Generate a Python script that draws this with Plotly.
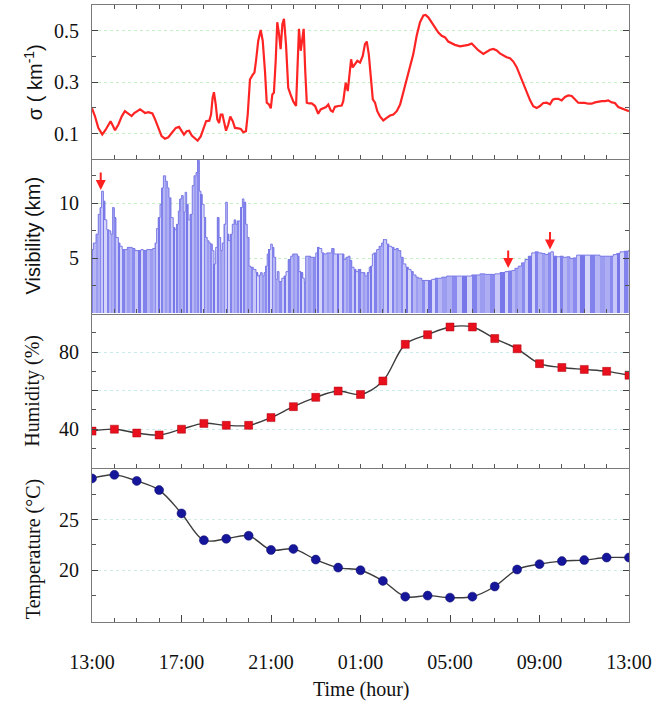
import plotly.graph_objects as go

# ---------------- data ----------------
hour_ticks = [0, 4, 8, 12, 16, 20, 24]
hour_labels = ["13:00", "17:00", "21:00", "01:00", "05:00", "09:00", "13:00"]

# extinction coefficient sigma (km^-1), time in hours after 13:00
sigma_t = [0.0, 0.13, 0.28, 0.46, 0.61, 0.73, 0.83, 0.92, 1.03, 1.18, 1.33, 1.47, 1.62, 1.77, 1.89,
           2.0, 2.15, 2.26, 2.37, 2.52, 2.7, 2.82, 2.96, 3.11, 3.26, 3.41, 3.56, 3.75, 3.89, 4.01,
           4.11, 4.23, 4.34, 4.46, 4.6, 4.72, 4.86, 4.98, 5.1, 5.24, 5.32, 5.39, 5.45, 5.53, 5.6,
           5.68, 5.75, 5.83, 5.91, 5.99, 6.09, 6.18, 6.29, 6.39, 6.54, 6.65, 6.76, 6.88, 6.96, 7.06,
           7.18, 7.26, 7.33, 7.43, 7.54, 7.63, 7.73, 7.81, 7.91, 7.99, 8.06, 8.13, 8.21, 8.28, 8.36,
           8.43, 8.51, 8.58, 8.67, 8.77, 8.88, 9.0, 9.12, 9.19, 9.25, 9.33, 9.4, 9.46, 9.53, 9.6,
           9.7, 9.82, 9.97, 10.11, 10.22, 10.34, 10.46, 10.56, 10.67, 10.76, 10.86, 11.01, 11.16,
           11.23, 11.34, 11.43, 11.5, 11.58, 11.65, 11.75, 11.86, 11.98, 12.1, 12.2, 12.28, 12.37,
           12.46, 12.55, 12.65, 12.75, 12.87, 13.02, 13.17, 13.32, 13.47, 13.62, 13.77, 13.91,
           14.07, 14.21, 14.36, 14.51, 14.66, 14.81, 14.91, 15.03, 15.18, 15.33, 15.48, 15.63,
           15.78, 15.92, 16.08, 16.22, 16.45, 16.67, 16.82, 16.97, 17.12, 17.26, 17.49, 17.64,
           17.79, 17.94, 18.09, 18.23, 18.38, 18.53, 18.68, 18.83, 18.98, 19.13, 19.28, 19.43,
           19.58, 19.72, 19.87, 20.02, 20.17, 20.32, 20.47, 20.59, 20.69, 20.84, 20.99, 21.14,
           21.29, 21.44, 21.59, 21.73, 21.89, 22.03, 22.18, 22.33, 22.48, 22.63, 22.78, 22.93,
           23.07, 23.23, 23.37, 23.52, 23.67, 23.82, 23.97, 24.0]
sigma_v = [0.198, 0.168, 0.122, 0.096, 0.115, 0.135, 0.148, 0.132, 0.113, 0.135, 0.167, 0.187, 0.178,
           0.168, 0.18, 0.185, 0.194, 0.187, 0.18, 0.183, 0.178, 0.155, 0.12, 0.09, 0.08, 0.085, 0.102,
           0.122, 0.126, 0.111, 0.096, 0.109, 0.111, 0.092, 0.079, 0.072, 0.089, 0.115, 0.148, 0.15,
           0.174, 0.239, 0.261, 0.213, 0.155, 0.141, 0.174, 0.174, 0.135, 0.111, 0.135, 0.166, 0.148,
           0.122, 0.12, 0.118, 0.105, 0.109, 0.174, 0.31, 0.328, 0.337, 0.383, 0.461, 0.503, 0.461,
           0.344, 0.22, 0.213, 0.198, 0.252, 0.259, 0.383, 0.533, 0.487, 0.428, 0.526, 0.546, 0.448,
           0.278, 0.25, 0.224, 0.207, 0.344, 0.507, 0.422, 0.467, 0.507, 0.344, 0.22, 0.217, 0.217,
           0.207, 0.177, 0.194, 0.2, 0.203, 0.213, 0.19, 0.185, 0.204, 0.207, 0.209, 0.226, 0.298,
           0.265, 0.33, 0.389, 0.357, 0.37, 0.383, 0.376, 0.402, 0.448, 0.458, 0.409, 0.311, 0.233,
           0.22, 0.187, 0.167, 0.151, 0.161, 0.17, 0.174, 0.187, 0.213, 0.259, 0.31, 0.357, 0.409,
           0.48, 0.533, 0.559, 0.561, 0.552, 0.533, 0.516, 0.493, 0.48, 0.474, 0.458, 0.45, 0.445,
           0.439, 0.441, 0.445, 0.45, 0.435, 0.424, 0.41, 0.419, 0.426, 0.429, 0.423, 0.412, 0.403,
           0.397, 0.393, 0.38, 0.358, 0.326, 0.287, 0.261, 0.229, 0.206, 0.199, 0.207, 0.219, 0.22,
           0.214, 0.232, 0.235, 0.235, 0.229, 0.242, 0.248, 0.246, 0.232, 0.22, 0.219, 0.219, 0.216,
           0.216, 0.221, 0.225, 0.226, 0.226, 0.229, 0.221, 0.219, 0.203, 0.197, 0.193, 0.188, 0.187]

# visibility (km)
vis_t = [0.0, 0.06, 0.18, 0.28, 0.36, 0.43, 0.51, 0.58, 0.66, 0.76, 0.84, 0.93, 1.0, 1.07, 1.18, 1.25,
         1.35, 1.47, 1.58, 1.7, 1.8, 1.92, 2.07, 2.19, 2.29, 2.44, 2.59, 2.71, 2.82, 2.89, 2.96, 3.04,
         3.12, 3.19, 3.29, 3.37, 3.44, 3.53, 3.63, 3.71, 3.79, 3.86, 3.93, 4.01, 4.08, 4.16, 4.23,
         4.3, 4.38, 4.48, 4.56, 4.65, 4.72, 4.8, 4.87, 4.93, 5.01, 5.08, 5.15, 5.23, 5.31, 5.38,
         5.45, 5.53, 5.6, 5.68, 5.75, 5.82, 5.9, 5.98, 6.05, 6.12, 6.2, 6.27, 6.35, 6.42, 6.49,
         6.57, 6.64, 6.72, 6.79, 6.87, 6.94, 7.02, 7.09, 7.21, 7.33, 7.41, 7.48, 7.54, 7.61, 7.69,
         7.76, 7.83, 7.91, 7.99, 8.06, 8.13, 8.21, 8.28, 8.36, 8.48, 8.58, 8.67, 8.77, 8.88, 8.97,
         9.07, 9.18, 9.25, 9.34, 9.42, 9.49, 9.55, 9.67, 9.77, 9.89, 10.0, 10.09, 10.16, 10.27,
         10.37, 10.49, 10.59, 10.71, 10.82, 10.94, 11.05, 11.16, 11.26, 11.35, 11.45, 11.53, 11.61,
         11.71, 11.8, 11.9, 12.01, 12.1, 12.2, 12.3, 12.39, 12.46, 12.53, 12.6, 12.72, 12.83,
         12.95, 13.02, 13.09, 13.17, 13.27, 13.39, 13.5, 13.59, 13.69, 13.8, 13.91, 14.03, 14.14,
         14.26, 14.36, 14.48, 14.58, 14.74, 14.88, 15.03, 15.18, 15.33, 15.48, 15.63, 15.85,
         16.08, 16.3, 16.52, 16.75, 16.97, 17.2, 17.34, 17.56, 17.79, 18.01, 18.23, 18.46, 18.61,
         18.76, 18.9, 19.05, 19.2, 19.35, 19.5, 19.65, 19.8, 19.95, 20.1, 20.25, 20.39, 20.51,
         20.62, 20.77, 20.92, 21.06, 21.22, 21.36, 21.51, 21.66, 21.81, 22.03, 22.26, 22.48, 22.7,
         22.93, 23.15, 23.3, 23.45, 23.6, 23.78, 23.97]
vis_v = [5.8, 6.4, 7.2, 9.0, 9.6, 11.1, 10.2, 8.5, 7.6, 7.5, 7.2, 9.6, 8.7, 6.9, 6.4, 6.1, 5.8, 5.8,
         6.0, 6.0, 5.9, 5.7, 5.7, 5.8, 5.7, 5.8, 5.8, 5.9, 6.4, 7.7, 8.7, 9.9, 11.4, 12.5, 12.0, 11.4,
         10.5, 8.7, 7.8, 7.6, 8.1, 9.3, 10.4, 10.7, 9.2, 11.0, 9.9, 8.5, 9.0, 11.6, 12.5, 12.8, 13.9,
         11.1, 10.8, 9.9, 8.7, 6.9, 6.6, 6.4, 6.3, 5.7, 4.5, 6.0, 8.7, 6.9, 5.7, 6.4, 8.1, 10.1, 7.2,
         6.6, 7.2, 8.1, 8.5, 8.1, 8.4, 8.4, 9.6, 10.4, 10.1, 8.1, 6.9, 4.3, 4.2, 4.0, 3.7, 3.4, 3.5,
         3.7, 3.4, 3.7, 4.3, 5.4, 5.8, 6.3, 6.0, 5.1, 3.1, 3.8, 2.9, 3.2, 3.4, 3.8, 4.9, 5.2, 5.4,
         5.4, 5.2, 3.8, 3.7, 3.2, 2.8, 5.2, 5.2, 5.1, 5.1, 5.5, 6.0, 5.9, 5.5, 5.4, 5.5, 5.5, 5.9,
         5.4, 5.4, 5.4, 5.4, 4.9, 5.1, 5.2, 4.8, 4.2, 4.0, 3.8, 4.0, 3.7, 3.7, 3.4, 3.7, 4.2, 4.3,
         5.4, 5.5, 5.8, 6.1, 6.4, 6.7, 6.7, 6.3, 6.1, 6.0, 5.8, 5.9, 5.7, 5.1, 4.5, 4.2, 4.0, 3.8,
         3.5, 3.3, 3.2, 3.0, 3.0, 3.0, 3.1, 3.2, 3.2, 3.3, 3.4, 3.4, 3.4, 3.4, 3.4, 3.5, 3.5, 3.6,
         3.55, 3.55, 3.6, 3.7, 3.8, 3.85, 3.9, 4.1, 4.3, 4.6, 4.9, 5.2, 5.5, 5.6, 5.5, 5.45, 5.35,
         5.5, 5.6, 5.2, 5.15, 5.2, 5.1, 5.15, 5.0, 5.05, 5.3, 5.3, 5.3, 5.3, 5.3, 5.2, 5.2, 5.2,
         5.35, 5.45, 5.6, 5.65, 5.7]

# arrow marks on visibility panel (time, visibility at arrow tip)
arrow_t = [0.39, 18.6, 20.47]
arrow_v = [11.2, 4.13, 5.8]

# hourly humidity (%) and temperature (deg C)
hourly_t = list(range(25))
humidity = [39, 40, 38, 37, 40, 43, 42, 42, 46, 51.7, 56.5, 59.8, 58, 65, 84, 89, 93, 93, 87, 81.7,
            74, 72, 71, 70, 68]
temperature = [29.05, 29.4, 28.8, 27.9, 25.6, 22.96, 23.1, 23.4, 22.0, 22.1, 21.05, 20.26, 20.0, 18.95,
               17.4, 17.5, 17.3, 17.4, 18.4, 20.07, 20.6, 20.9, 21.0, 21.25, 21.25]

# ---------------- figure ----------------
SERIF = "Liberation Serif, Times New Roman, serif"
SANS = "Liberation Sans, Arial, sans-serif"
AXCOL = "#7a7a7a"

fig = go.Figure()

fig.add_trace(go.Scatter(x=sigma_t, y=sigma_v, mode="lines",
                         line=dict(color="#ff2424", width=2.2), xaxis="x", yaxis="y",
                         showlegend=False))

palette = ["#7878ec", "#c4c4f8", "#9494f0", "#d2d2fa", "#8282ee", "#b0b0f4", "#6c6ce8", "#a6a6f2"]
widths = [vis_t[i + 1] - vis_t[i] for i in range(len(vis_t) - 1)] + [24 - vis_t[-1]]
colors = [palette[(i * 5) % len(palette)] for i in range(len(vis_t))]
fig.add_trace(go.Bar(x=vis_t, y=vis_v, width=widths, offset=0,
                     marker=dict(color=colors, line=dict(width=0)), opacity=0.92,
                     xaxis="x2", yaxis="y2", showlegend=False))
fig.add_trace(go.Scatter(x=vis_t + [24], y=vis_v + [vis_v[-1]], mode="lines",
                         line=dict(color="#7c7ce6", width=1, shape="hv"),
                         xaxis="x2", yaxis="y2", showlegend=False))

fig.add_trace(go.Scatter(x=hourly_t, y=humidity, mode="lines+markers",
                         line=dict(color="#3c3c3c", width=1.4, shape="spline", smoothing=1),
                         marker=dict(symbol="square", size=8, color="#e8101c",
                                     line=dict(color="#b00010", width=0.5)),
                         xaxis="x3", yaxis="y3", showlegend=False))

fig.add_trace(go.Scatter(x=hourly_t, y=temperature, mode="lines+markers",
                         line=dict(color="#3c3c3c", width=1.4, shape="spline", smoothing=1),
                         marker=dict(symbol="circle", size=9, color="#16169a",
                                     line=dict(color="#0c0c70", width=0.5)),
                         xaxis="x4", yaxis="y4", showlegend=False))

domains = [[0.75, 1.0], [0.5, 0.75], [0.25, 0.5], [0.0, 0.25]]

def xaxis_cfg(anchor, labels, top):
    return dict(domain=[0, 1], anchor=anchor, range=[0, 24],
                tickvals=hour_ticks, ticktext=hour_labels if labels else [""] * 7,
                showticklabels=labels, ticks="inside", ticklen=7, tickwidth=1.2,
                tickcolor="#444", showline=True, linecolor=AXCOL, linewidth=1.1,
                mirror="allticks" if top else False, showgrid=False, zeroline=False,
                minor=dict(dtick=1, ticks="inside", ticklen=4, tickcolor="#555", showgrid=False),
                tickfont=dict(family=SERIF, size=20, color="#111"),
                ticklabelstandoff=22)

def yaxis_cfg(anchor, dom, rng, tv, tt, minor_vals, gridcol):
    return dict(domain=dom, anchor=anchor, range=rng, tickvals=tv, ticktext=tt,
                ticks="inside", ticklen=6, tickwidth=1.2, tickcolor="#444",
                showline=True, linecolor=AXCOL, linewidth=1.1, mirror="allticks",
                showgrid=True, gridcolor=gridcol, griddash="dot", gridwidth=1,
                zeroline=False,
                minor=dict(tickvals=minor_vals, ticks="inside", ticklen=4, tickcolor="#555",
                           showgrid=False),
                tickfont=dict(family=SERIF, size=20, color="#111"),
                ticklabelstandoff=8)

fig.update_layout(
    width=659, height=707,
    margin=dict(l=92, r=30, t=5, b=85),
    paper_bgcolor="white", plot_bgcolor="white",
    bargap=0,
    xaxis=xaxis_cfg("y", False, True),
    xaxis2=xaxis_cfg("y2", False, False),
    xaxis3=xaxis_cfg("y3", False, False),
    xaxis4=xaxis_cfg("y4", True, False),
    yaxis=yaxis_cfg("x", domains[0], [0, 0.6], [0.1, 0.3, 0.5], ["0.1", "0.3", "0.5"],
                    [0.2, 0.4], "#c4f0c4"),
    yaxis2=yaxis_cfg("x2", domains[1], [0, 14], [5, 10], ["5", "10"],
                     [2.5, 7.5, 12.5], "#c4f0c4"),
    yaxis3=yaxis_cfg("x3", domains[2], [20, 100], [40, 60, 80], ["40", "", "80"],
                     [30, 50, 70, 90], "#c8ecec"),
    yaxis4=yaxis_cfg("x4", domains[3], [14.9, 30.1], [20, 25], ["20", "25"],
                     [17.5, 22.5, 27.5], "#d0ece6"),
)

# red arrows on visibility panel
for t, v in zip(arrow_t, arrow_v):
    fig.add_annotation(x=t, y=v, xref="x2", yref="y2", text="", showarrow=True,
                       ax=0, ay=-19, arrowhead=2, arrowsize=1, arrowwidth=2,
                       arrowcolor="#ff2020")

# axis titles
title_x = (33 - 92) / 537
titles = [("σ ( km<sup>-1</sup>)", SANS, 0.875),
          ("Visibility (km)", SANS, 0.625),
          ("Humidity (%)", SERIF, 0.375),
          ("Temperature (°C)", SERIF, 0.118)]
for txt, fam, yc in titles:
    fig.add_annotation(x=title_x, y=yc, xref="paper", yref="paper", text=txt,
                       showarrow=False, textangle=-90, xanchor="center", yanchor="middle",
                       font=dict(family=fam, size=20, color="#111"))

fig.add_annotation(x=0.5, y=-0.110, xref="paper", yref="paper", text="Time (hour)",
                   showarrow=False, xanchor="center", yanchor="middle",
                   font=dict(family=SERIF, size=20, color="#111"))

fig.write_html("out.html")
